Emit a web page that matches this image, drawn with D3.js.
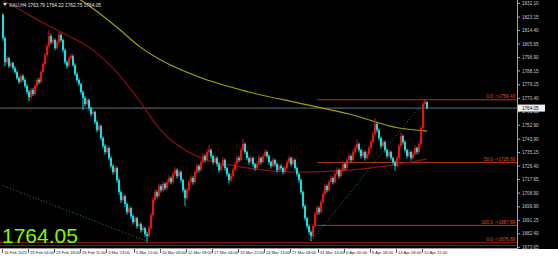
<!DOCTYPE html>
<html><head><meta charset="utf-8">
<script src="https://cdn.jsdelivr.net/npm/d3@7"></script>
<style>html,body{margin:0;padding:0;background:#000;overflow:hidden}svg{display:block}</style>
</head><body><svg id="c" width="558" height="259"></svg>
<script>
const firstOpen = 1824.5;
const closes = [
1809.5,1793.9,1796.5,1791.3,1793.3,1790.0,1787.4,1783.6,1781.0,1784.9,
1782.3,1778.4,1774.5,1771.2,1775.8,1773.2,1778.4,1782.3,1781.0,1787.4,
1792.6,1798.5,1804.3,1810.8,1806.9,1808.2,1803.0,1806.9,1811.5,1808.2,
1801.7,1793.9,1791.3,1796.5,1797.8,1792.0,1786.1,1782.3,1779.7,1774.5,
1770.6,1766.7,1769.3,1764.1,1760.2,1761.5,1755.0,1749.8,1752.4,1744.6,
1739.4,1735.5,1738.1,1731.6,1726.4,1722.5,1725.1,1717.3,1709.5,1704.3,
1706.9,1701.7,1696.5,1699.1,1693.9,1690.0,1692.6,1687.4,1688.7,1684.8,
1686.1,1682.2,1680.9,1686.1,1694.6,1704.3,1709.5,1706.9,1713.4,1710.8,
1714.7,1712.1,1716.0,1718.6,1716.0,1721.2,1723.8,1719.9,1722.5,1717.3,
1710.8,1705.6,1710.8,1716.0,1718.6,1716.0,1722.5,1726.4,1723.8,1729.0,
1732.9,1730.3,1735.5,1736.8,1732.9,1729.0,1731.6,1727.7,1723.8,1726.4,
1730.3,1725.1,1721.2,1717.3,1719.9,1723.8,1727.7,1731.6,1730.3,1736.8,
1740.7,1735.5,1731.6,1729.0,1731.6,1727.7,1725.1,1727.7,1731.6,1729.0,
1732.9,1735.5,1732.9,1729.0,1726.4,1730.3,1727.7,1723.8,1726.4,1725.1,
1722.5,1725.1,1729.0,1731.6,1727.7,1730.3,1725.1,1721.2,1717.3,1709.5,
1700.4,1692.6,1687.4,1683.5,1680.9,1687.4,1695.2,1699.1,1696.5,1703.0,
1708.2,1713.4,1710.8,1716.0,1718.6,1716.0,1721.2,1723.8,1719.9,1723.8,
1727.7,1725.1,1730.3,1732.9,1730.3,1735.5,1738.1,1740.7,1736.8,1732.9,
1735.5,1731.6,1734.2,1738.1,1742.0,1747.2,1753.7,1749.8,1744.6,1739.4,
1742.0,1736.8,1732.9,1735.5,1731.6,1729.0,1726.4,1731.6,1739.4,1745.9,
1742.0,1736.8,1732.9,1735.5,1731.6,1734.2,1738.1,1735.5,1740.7,1751.1,
1766.7,1768.0,1764.05];
const highs = [
1825.8,1810.6,1798.0,1797.4,1794.6,1794.1,1791.2,1788.5,1784.6,1786.3,
1786.0,1783.5,1779.6,1775.8,1777.1,1777.0,1779.7,1783.6,1783.8,1788.7,
1794.0,1799.8,1805.8,1814.7,1812.3,1809.9,1809.3,1808.2,1813.4,1812.6,
1809.1,1802.8,1795.0,1797.9,1799.2,1798.9,1793.1,1787.2,1783.4,1780.6,
1775.5,1771.9,1770.8,1770.2,1765.0,1763.3,1762.4,1756.1,1754.0,1753.3,
1745.7,1740.6,1740.0,1739.0,1732.8,1727.7,1727.0,1726.0,1718.4,1710.6,
1708.6,1707.8,1702.8,1700.9,1700.0,1695.1,1694.3,1693.5,1690.4,1689.8,
1687.9,1687.0,1683.6,1687.8,1696.2,1706.0,1711.3,1710.8,1715.0,1714.6,
1716.4,1715.8,1717.7,1720.4,1719.7,1722.8,1725.6,1724.9,1724.2,1723.4,
1718.2,1711.7,1712.5,1717.6,1720.3,1719.8,1724.1,1728.1,1727.5,1730.6,
1734.7,1734.0,1737.2,1739.9,1737.9,1733.8,1733.3,1732.6,1728.8,1728.1,
1732.0,1731.3,1726.0,1722.1,1721.5,1725.4,1729.3,1733.2,1733.0,1738.4,
1744.0,1741.6,1736.4,1732.5,1733.3,1732.5,1728.6,1729.4,1733.3,1732.5,
1734.6,1737.3,1736.5,1733.8,1729.9,1731.9,1731.2,1728.6,1728.0,1727.6,
1726.0,1726.7,1730.6,1733.3,1732.5,1732.0,1731.2,1726.0,1722.1,1718.2,
1710.4,1701.5,1693.5,1688.5,1684.6,1689.0,1696.8,1700.9,1700.2,1704.6,
1709.9,1715.1,1714.5,1717.7,1720.3,1719.6,1722.9,1725.5,1724.8,1725.4,
1729.4,1728.7,1731.9,1734.6,1733.9,1737.2,1739.8,1743.3,1741.7,1737.7,
1737.2,1736.4,1735.9,1739.8,1743.7,1748.9,1757.6,1755.0,1750.7,1745.5,
1743.7,1742.9,1737.7,1737.2,1736.4,1732.5,1729.9,1733.3,1741.1,1748.2,
1746.8,1742.9,1737.7,1737.2,1736.4,1735.9,1739.8,1739.0,1742.4,1752.8,
1768.3,1769.4,1768.6];
const lows = [
1807.9,1791.3,1792.6,1790.0,1790.2,1788.9,1786.3,1782.4,1779.8,1780.1,
1781.2,1777.0,1773.1,1768.6,1770.0,1771.9,1772.3,1777.4,1779.5,1780.1,
1786.5,1791.5,1797.4,1803.3,1805.4,1805.6,1801.6,1802.0,1805.8,1806.9,
1800.2,1792.4,1789.6,1790.4,1795.3,1790.8,1784.9,1781.0,1778.3,1772.9,
1762.8,1765.2,1765.8,1762.5,1758.7,1759.0,1753.4,1748.2,1748.7,1743.0,
1737.9,1733.8,1734.4,1730.1,1724.9,1720.8,1721.3,1715.6,1707.8,1702.5,
1703.1,1699.9,1694.8,1695.4,1692.2,1688.4,1689.0,1685.7,1686.1,1683.1,
1683.6,1680.5,1676.9,1679.6,1685.3,1693.7,1703.2,1705.3,1705.9,1709.2,
1709.7,1710.5,1711.0,1715.0,1714.4,1715.1,1720.1,1718.3,1718.8,1715.7,
1709.1,1700.6,1704.5,1709.9,1715.0,1714.3,1715.1,1721.5,1722.2,1722.9,
1728.0,1728.7,1729.4,1734.4,1731.3,1727.4,1728.0,1726.1,1722.1,1722.9,
1725.5,1723.5,1719.6,1715.2,1716.2,1718.9,1722.8,1726.7,1728.8,1729.4,
1735.9,1734.0,1730.0,1727.4,1728.0,1726.1,1723.4,1724.0,1726.8,1727.4,
1728.1,1731.9,1731.3,1727.4,1724.8,1725.5,1726.1,1722.2,1722.8,1723.5,
1720.9,1721.5,1724.2,1728.1,1726.1,1726.8,1723.5,1719.6,1715.6,1707.8,
1698.7,1690.9,1685.7,1681.8,1677.7,1680.0,1686.5,1694.3,1694.8,1695.6,
1702.1,1707.3,1709.2,1709.9,1715.0,1714.4,1715.1,1720.3,1718.3,1718.9,
1722.8,1723.5,1724.2,1729.3,1728.7,1729.4,1734.5,1737.1,1735.2,1731.3,
1731.9,1730.0,1730.6,1733.2,1737.1,1741.0,1746.2,1748.2,1743.0,1737.8,
1738.4,1735.2,1731.3,1731.9,1730.0,1727.4,1723.5,1725.4,1730.6,1738.4,
1740.4,1735.2,1731.3,1731.9,1730.0,1730.6,1733.2,1733.9,1734.5,1739.7,
1750.1,1765.3,1763.4];

const timeLabels = ["16 Feb 2021","19 Feb 04:00","23 Feb 19:00","26 Feb 11:00","3 Mar 23:00","5 Mar 15:00","10 Mar 08:00","12 Mar 09:00","17 Mar 04:00","19 Mar 22:00","24 Mar 13:00","27 Mar 08:00","31 Mar 14:00","6 Apr 00:00","8 Apr 18:00","13 Apr 09:00","15 Apr 22:00"];
const timeLabelBars = [0,13,26,39,52,66,79,92,105,118,131,144,158,171,184,197,210];
const priceTicks = ["1832.10","1823.15","1814.40","1805.65","1796.90","1788.15","1779.15","1770.40","1761.65","1752.90","1743.90","1735.15","1726.40","1717.65","1708.90","1699.90","1691.15","1682.40","1673.65"];

const maSlowBars = [30,38,48,58,68,78,98,123,148,173,198,212];
const maSlowVals = [1840.0,1834.8,1825.8,1815.4,1804.3,1795.9,1784.2,1774.5,1767.3,1760.2,1751.1,1749.1];
const maFastBars = [0,2,22,29,45,55,68,78,88,98,123,148,173,198,212];
const maFastVals = [1833.5,1832.3,1818.0,1813.4,1801.7,1790.0,1769.3,1751.1,1739.4,1732.2,1725.1,1722.5,1723.8,1727.7,1730.9];

const fibPrices = [1769.43,1728.66,1687.89];
const fibLabels = ["0.0  ->1769.43","50.0  ->1728.66","100.0  ->1687.89"];
const fibStartBar = 157;
const supportPrices = [1676.7,1674.8];
const supportLabel = "0.0  ->1676.89";
const trendA = [[-2,1714.7],[72,1677.5]];
const trendB = [[154,1677.7],[211,1769.4]];
const lastPrice = 1764.05;
const header = "XAU,H4  1763.79 1764.22 1762.75 1764.05";

const svg = d3.select("#c");
const W = 558, H = 259, plotR = 517, plotB = 248;
const FONT = "Liberation Sans, Arial, sans-serif";
svg.append("rect").attr("width",W).attr("height",H).attr("fill","#000");

const x = d3.scaleLinear().domain([0,212]).range([3,427]);
const y = d3.scaleLinear().domain([1673.65,1832.10]).range([247.3,3.3]);

svg.append("clipPath").attr("id","clip").append("rect").attr("x",0).attr("y",0).attr("width",plotR).attr("height",plotB);
const g = svg.append("g").attr("clip-path","url(#clip)");

g.selectAll(".sup").data(supportPrices).join("line")
  .attr("x1",0).attr("x2",plotR).attr("y1",d=>y(d)).attr("y2",d=>y(d))
  .attr("stroke","#8b1a0a").attr("stroke-width",1);

g.selectAll(".fib").data(fibPrices).join("line")
  .attr("x1",x(fibStartBar)).attr("x2",plotR).attr("y1",d=>y(d)).attr("y2",d=>y(d))
  .attr("stroke","#b83a10").attr("stroke-width",1);

g.append("line").attr("x1",0).attr("x2",plotR).attr("y1",y(lastPrice)).attr("y2",y(lastPrice))
  .attr("stroke","#5f6e7c").attr("stroke-width",1);

const lineGen = d3.line().x(d=>x(d[0])).y(d=>y(d[1])).curve(d3.curveMonotoneX);
g.append("path").attr("d",lineGen(maFastBars.map((b,i)=>[b,maFastVals[i]])))
  .attr("fill","none").attr("stroke","#8b1010").attr("stroke-width",1.2);
g.append("path").attr("d",lineGen(maSlowBars.map((b,i)=>[b,maSlowVals[i]])))
  .attr("fill","none").attr("stroke","#a3a300").attr("stroke-width",1.2);

[trendA,trendB].forEach(t=>{
  g.append("line").attr("x1",x(t[0][0])).attr("y1",y(t[0][1])).attr("x2",x(t[1][0])).attr("y2",y(t[1][1]))
   .attr("stroke","#1f8a66").attr("stroke-width",1).attr("stroke-dasharray","1,2");
});

const data = closes.map((c,i)=>({i, o: i===0?firstOpen:closes[i-1], h: highs[i], l: lows[i], c}));
const col = d => d.c >= d.o ? "#ff1010" : "#10f0f0";
g.selectAll(".wick").data(data).join("line")
  .attr("x1",d=>x(d.i)).attr("x2",d=>x(d.i)).attr("y1",d=>y(d.h)).attr("y2",d=>y(d.l))
  .attr("stroke",col).attr("stroke-width",0.9);
g.selectAll(".body").data(data).join("rect")
  .attr("x",d=>x(d.i)-0.9).attr("width",1.8)
  .attr("y",d=>y(Math.max(d.o,d.c))).attr("height",d=>Math.max(0.8,Math.abs(y(d.o)-y(d.c))))
  .attr("fill",col);

svg.selectAll(".fibl").data(fibPrices).join("text")
  .attr("x",plotR-2).attr("y",(d)=>y(d)-1.5).attr("text-anchor","end")
  .attr("font-family",FONT).attr("font-size",4.6)
  .attr("fill","#e0501a").text((d,i)=>fibLabels[i]);
svg.append("text").attr("x",plotR-2).attr("y",y(supportPrices[0])-1.5).attr("text-anchor","end")
  .attr("font-family",FONT).attr("font-size",4.6)
  .attr("fill","#e0501a").text(supportLabel);

svg.append("path").attr("d","M3,3 L7,3 L5,6 Z").attr("fill","#ddd");
svg.append("text").attr("x",9).attr("y",6.5).attr("font-family",FONT)
  .attr("font-size",4.8).attr("fill","#e8e8e8").text(header);

svg.append("text").attr("x",2).attr("y",243).attr("font-family",FONT)
  .attr("font-size",21).attr("fill","#7cfc00").text(d3.format(".2f")(lastPrice));

svg.append("rect").attr("x",0).attr("y",plotB+1).attr("width",W).attr("height",H-plotB-1).attr("fill","#fff");
svg.append("line").attr("x1",0).attr("x2",plotR).attr("y1",plotB+0.5).attr("y2",plotB+0.5).attr("stroke","#9a9a9a");
const tg = svg.append("g");
timeLabelBars.forEach((b,k)=>{
  const px = Math.round(x(b))-0.5;
  tg.append("line").attr("x1",px).attr("x2",px).attr("y1",plotB+1).attr("y2",plotB+5).attr("stroke","#333").attr("stroke-width",0.8);
  tg.append("text").attr("x",px+1.5).attr("y",plotB+6).attr("font-family",FONT)
    .attr("font-size",4.1).attr("fill","#222").text(timeLabels[k]);
});

svg.append("line").attr("x1",plotR+0.5).attr("x2",plotR+0.5).attr("y1",0).attr("y2",plotB+1).attr("stroke","#a8a8a8");
const pg = svg.append("g");
priceTicks.forEach(t=>{
  const py = y(+t);
  pg.append("line").attr("x1",plotR).attr("x2",plotR+3).attr("y1",py).attr("y2",py).attr("stroke","#a8a8a8");
  pg.append("text").attr("x",plotR+5).attr("y",py+1.6).attr("font-family",FONT)
    .attr("font-size",4.6).attr("fill","#c8c8c8").text(t);
});
const ly = y(lastPrice);
pg.append("rect").attr("x",plotR+1).attr("y",ly-3.5).attr("width",27).attr("height",7).attr("fill","#f0f0f0");
pg.append("text").attr("x",plotR+5).attr("y",ly+1.7).attr("font-family",FONT)
  .attr("font-size",4.6).attr("fill","#000").text(d3.format(".2f")(lastPrice));
</script>
</body></html>
